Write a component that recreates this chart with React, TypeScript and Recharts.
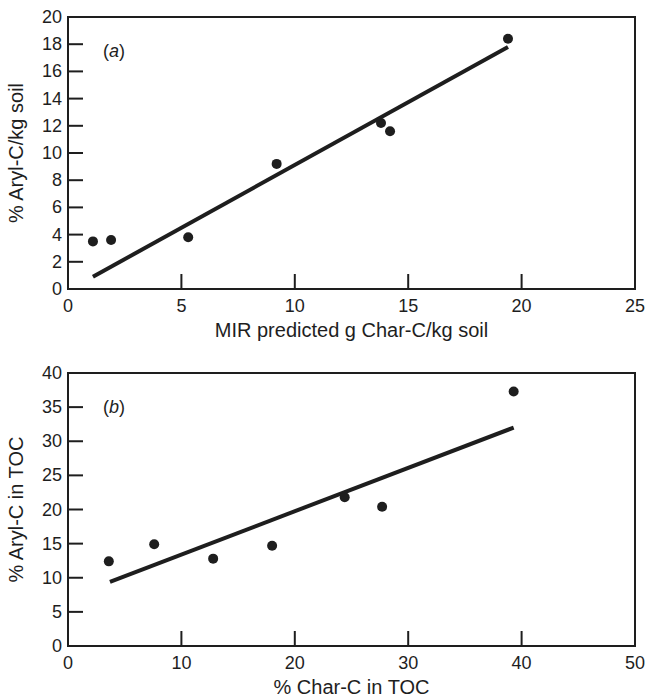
import { ScatterChart, Scatter, XAxis, YAxis, ReferenceArea, ReferenceLine } from 'recharts'

const INK = '#1e1e1e'
const FONT = '"Liberation Sans", Arial, Helvetica, sans-serif'

// panel (a)
const aX = [1.1, 1.9, 5.3, 9.2, 13.8, 14.2, 19.4]
const aY = [3.5, 3.6, 3.8, 9.2, 12.2, 11.6, 18.4]
const aFitX = [1.1, 19.4]
const aFitY = [0.9, 17.8]
const aXTicks = [0, 5, 10, 15, 20, 25]
const aYTicks = [0, 2, 4, 6, 8, 10, 12, 14, 16, 18, 20]

// panel (b)
const bX = [3.6, 7.6, 12.8, 18.0, 24.4, 27.7, 39.3]
const bY = [12.4, 14.9, 12.8, 14.7, 21.8, 20.4, 37.3]
const bFitX = [3.7, 39.3]
const bFitY = [9.4, 32.0]
const bXTicks = [0, 10, 20, 30, 40, 50]
const bYTicks = [0, 5, 10, 15, 20, 25, 30, 35, 40]

// inward tick marks with labels outside
const XTick = ({ x, y, payload }: any) => (
  <g>
    <line x1={x} y1={y} x2={x} y2={y - 15} stroke={INK} strokeWidth={2} />
    <text x={x} y={y + 23} textAnchor="middle" fontSize={18} fill={INK}>
      {payload.value}
    </text>
  </g>
)

const YTick = ({ x, y, payload }: any) => (
  <g>
    <line x1={x} y1={y} x2={x + 15} y2={y} stroke={INK} strokeWidth={2} />
    <text x={x - 6} y={y + 6} textAnchor="end" fontSize={18} fill={INK}>
      {payload.value}
    </text>
  </g>
)

const Dot = (props: any) => <circle cx={props.cx} cy={props.cy} r={5} fill={INK} />

interface PanelProps {
  xs: number[]
  ys: number[]
  fitX: number[]
  fitY: number[]
  xTicks: number[]
  yTicks: number[]
  xTitle: string
  yTitle: string
  tag: string
  height: number
  top: number
  plotHeight: number
}

function Panel({ xs, ys, fitX, fitY, xTicks, yTicks, xTitle, yTitle, tag, height, top, plotHeight }: PanelProps) {
  const data = xs.map((x, i) => ({ x, y: ys[i] }))
  const xMax = xTicks[xTicks.length - 1]
  const yMax = yTicks[yTicks.length - 1]

  return (
    <ScatterChart width={645} height={height} margin={{ top, right: 10, bottom: 0, left: 0 }}>
      <XAxis
        type="number"
        dataKey="x"
        domain={[0, xMax]}
        ticks={xTicks}
        axisLine={false}
        tickLine={false}
        tickSize={0}
        tickMargin={0}
        tick={<XTick />}
        height={height - top - plotHeight}
        label={{
          content: ({ viewBox }: any) => (
            <text
              x={viewBox.x + viewBox.width / 2}
              y={viewBox.y + 48}
              textAnchor="middle"
              fontSize={20}
              fill={INK}
            >
              {xTitle}
            </text>
          ),
        }}
      />
      <YAxis
        type="number"
        dataKey="y"
        domain={[0, yMax]}
        ticks={yTicks}
        axisLine={false}
        tickLine={false}
        tickSize={0}
        tickMargin={0}
        tick={<YTick />}
        width={68}
        label={{
          content: ({ viewBox }: any) => {
            const cx = 23
            const cy = viewBox.y + viewBox.height / 2
            return (
              <text
                x={cx}
                y={cy}
                transform={`rotate(-90, ${cx}, ${cy})`}
                textAnchor="middle"
                fontSize={20}
                fill={INK}
              >
                {yTitle}
              </text>
            )
          },
        }}
      />
      <ReferenceArea
        x1={0}
        x2={xMax}
        y1={0}
        y2={yMax}
        fill="none"
        fillOpacity={0}
        stroke={INK}
        strokeWidth={2}
        label={{
          content: ({ viewBox }: any) => (
            <text x={viewBox.x + 35} y={viewBox.y + 40} fontSize={18} fill={INK}>
              (<tspan fontStyle="italic">{tag}</tspan>)
            </text>
          ),
        }}
      />
      <ReferenceLine
        segment={[
          { x: fitX[0], y: fitY[0] },
          { x: fitX[1], y: fitY[1] },
        ]}
        stroke={INK}
        strokeWidth={4}
      />
      <Scatter data={data} shape={<Dot />} isAnimationActive={false} />
    </ScatterChart>
  )
}

export default function App() {
  return (
    <div
      style={{
        position: 'absolute',
        left: 0,
        top: 0,
        width: 645,
        height: 698,
        background: '#fff',
        fontFamily: FONT,
      }}
    >
      <Panel
        xs={aX}
        ys={aY}
        fitX={aFitX}
        fitY={aFitY}
        xTicks={aXTicks}
        yTicks={aYTicks}
        xTitle="MIR predicted g Char-C/kg soil"
        yTitle="% Aryl-C/kg soil"
        tag="a"
        height={350}
        top={17}
        plotHeight={272}
      />
      <Panel
        xs={bX}
        ys={bY}
        fitX={bFitX}
        fitY={bFitY}
        xTicks={bXTicks}
        yTicks={bYTicks}
        xTitle="% Char-C in TOC"
        yTitle="% Aryl-C in TOC"
        tag="b"
        height={348}
        top={23}
        plotHeight={273}
      />
    </div>
  )
}
